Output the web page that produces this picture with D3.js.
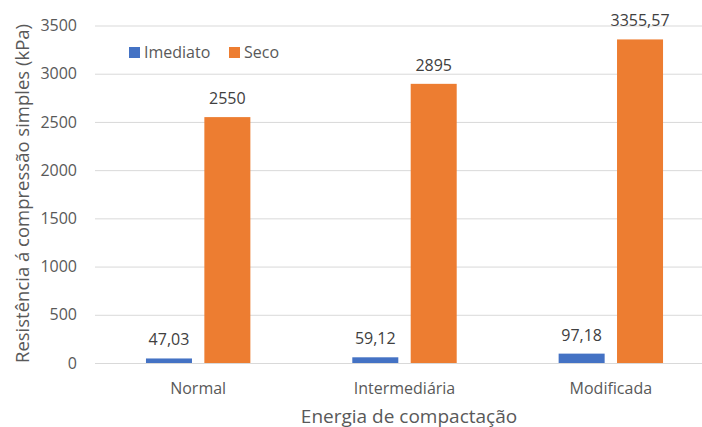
<!DOCTYPE html>
<html>
<head>
<meta charset="utf-8">
<script src="https://cdn.jsdelivr.net/npm/d3@7"></script>
<style>
  body { margin: 0; background: #fff; }
  svg { display: block; font-family: "Open Sans", Lato, sans-serif; }
</style>
</head>
<body>
<svg id="chart" width="702" height="427"></svg>
<script>
// Compaction energy levels and unconfined compressive strength (kPa)
const categories = ["Normal", "Intermediária", "Modificada"];
const seriesNames = ["Imediato", "Seco"];
const imediato = [47.03, 59.12, 97.18];
const seco = [2550, 2895, 3355.57];
const yTicks = [0, 500, 1000, 1500, 2000, 2500, 3000, 3500];
const colors = ["#4472C4", "#ED7D31"];

const fmt = v => String(v).replace(".", ",");

const svg = d3.select("#chart");
const plotLeft = 95, plotRight = 714, plotTop = 25.5, plotBottom = 363;

const x = d3.scaleBand().domain(categories).range([plotLeft, plotRight]);
const y = d3.scaleLinear().domain([0, 3500]).range([plotBottom, plotTop]);

// Bars inside each category band
const bw = x.bandwidth() * 0.223;
const gap = x.bandwidth() * 0.06;
const groupOffset = (x.bandwidth() - (2 * bw + gap)) / 2;
const inner = d3.scaleBand().domain(seriesNames)
  .range([groupOffset, groupOffset + 2 * bw + gap])
  .paddingInner(gap / (bw + gap));

// Horizontal gridlines and value ticks
const yAxis = d3.axisLeft(y).tickValues(yTicks).tickSize(-(702 - plotLeft)).tickPadding(18).tickFormat(d => d);
const gy = svg.append("g").attr("transform", `translate(${plotLeft},0)`).call(yAxis);
gy.select(".domain").remove();
gy.selectAll(".tick line").attr("stroke", "#D9D9D9").attr("stroke-width", 1);
gy.selectAll(".tick text").attr("fill", "#595959").style("font-size", "16px")
  .style("font-family", "'Open Sans', sans-serif");

const rows = categories.map((c, i) => ({ cat: c, vals: [imediato[i], seco[i]] }));
const g = svg.append("g");
rows.forEach(r => {
  r.vals.forEach((v, j) => {
    const bx = x(r.cat) + inner(seriesNames[j]);
    g.append("rect")
      .attr("x", bx).attr("width", inner.bandwidth())
      .attr("y", y(v)).attr("height", y(0) - y(v))
      .attr("fill", colors[j]);
    g.append("text")
      .attr("x", bx + inner.bandwidth() / 2).attr("y", y(v) - 13)
      .attr("text-anchor", "middle").attr("fill", "#404040")
      .style("font-size", "16px")
      .text(fmt(v));
  });
});

// Category axis
const xAxis = d3.axisBottom(x).tickSize(0).tickPadding(0);
const gx = svg.append("g").attr("transform", `translate(0,${plotBottom})`).call(xAxis);
gx.select(".domain").attr("stroke", "#D9D9D9").attr("d", `M${plotLeft},0.5H702`);
gx.selectAll(".tick text").attr("fill", "#595959").style("font-size", "16px")
  .style("font-family", "'Open Sans', sans-serif")
  .attr("dy", null).attr("y", 31);

// Axis titles
svg.append("text")
  .attr("transform", "translate(29,193.5) rotate(-90)")
  .attr("text-anchor", "middle").attr("fill", "#595959")
  .style("font-size", "18.5px")
  .text("Resistência á compressão simples (kPa)");
svg.append("text")
  .attr("x", 409).attr("y", 423)
  .attr("text-anchor", "middle").attr("fill", "#595959")
  .style("font-size", "19px")
  .text("Energia de compactação");

// Legend
const legend = svg.append("g");
const legendX = [129, 229];
seriesNames.forEach((s, i) => {
  legend.append("rect").attr("x", legendX[i]).attr("y", 47).attr("width", 11).attr("height", 11).attr("fill", colors[i]);
  legend.append("text").attr("x", legendX[i] + 15).attr("y", 57.5)
    .attr("fill", "#595959").style("font-size", "16px").text(s);
});
</script>
</body>
</html>
